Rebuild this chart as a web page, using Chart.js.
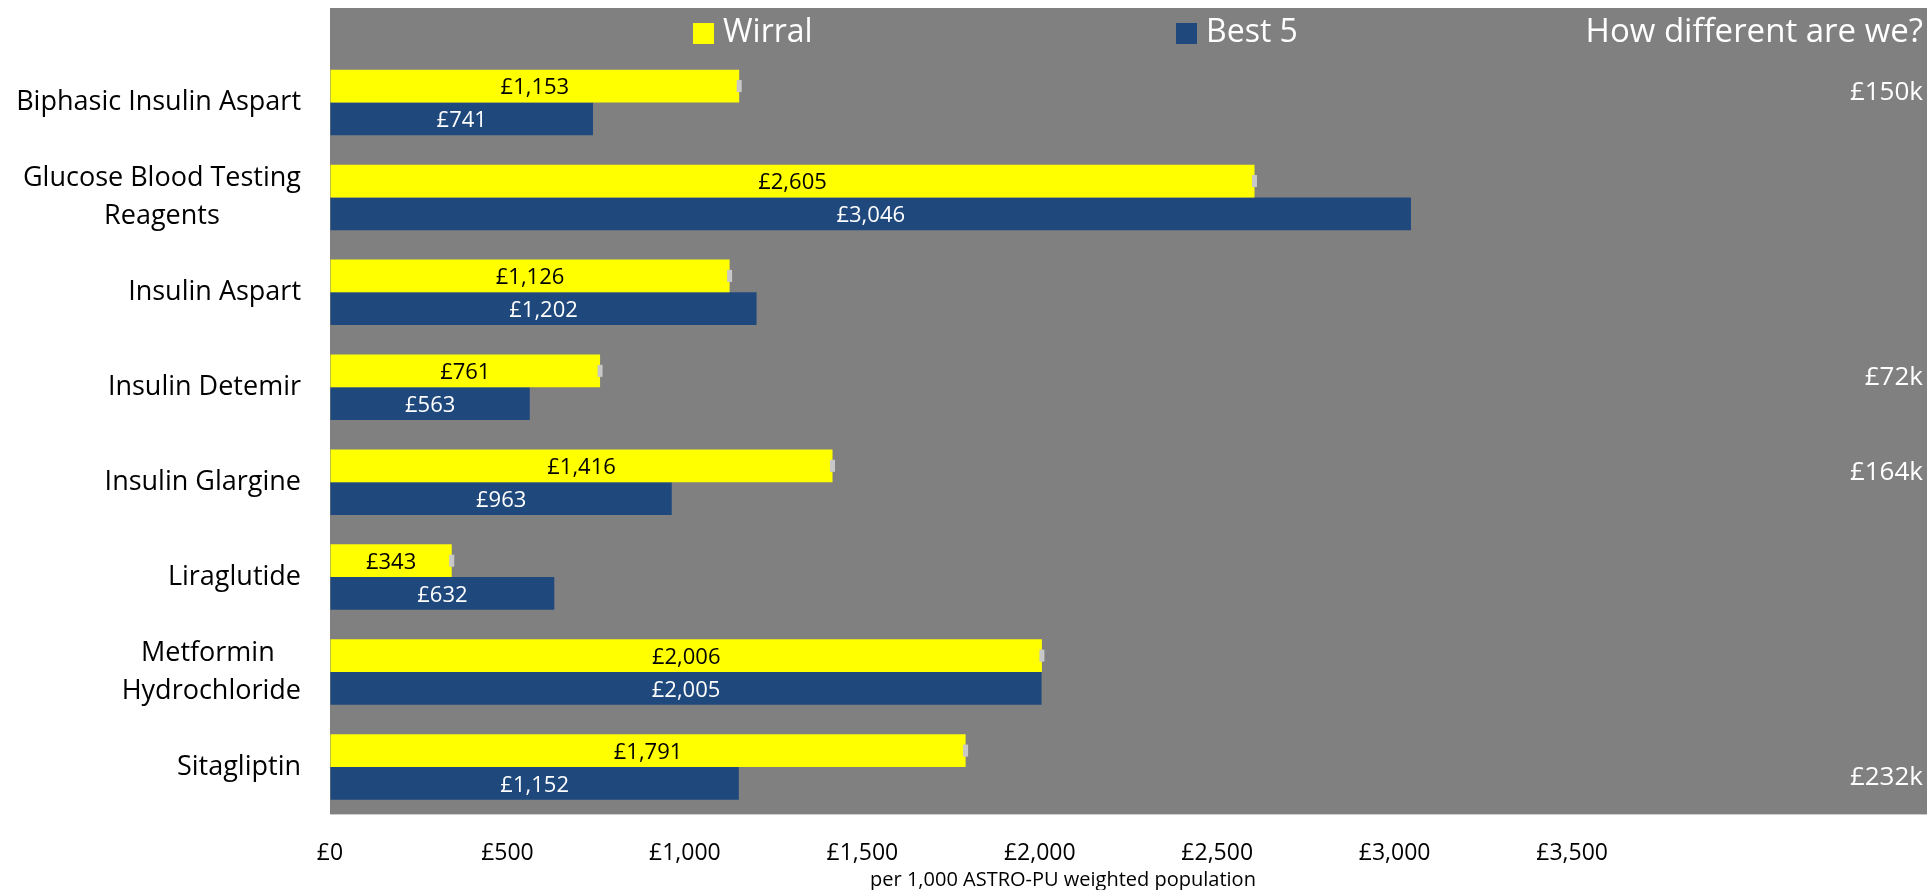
<!DOCTYPE html>
<html lang="en">
<head>
<meta charset="UTF-8" />
<title>How different are we?</title>
<script src="https://cdn.jsdelivr.net/npm/chart.js"></script>
<style>
  html, body { margin: 0; padding: 0; background: #fff; overflow: hidden; }
  #wrap { position: relative; width: 1927px; height: 890px; }
  canvas { display: block; }
</style>
</head>
<body>
<div id="wrap"><canvas id="chart"></canvas></div>
<script>
  // values
  const categories = [
    ['Biphasic Insulin Aspart'],
    ['Glucose Blood Testing', 'Reagents'],
    ['Insulin Aspart'],
    ['Insulin Detemir'],
    ['Insulin Glargine'],
    ['Liraglutide'],
    ['Metformin ', 'Hydrochloride'],
    ['Sitagliptin']
  ];
  const wirral = [1153, 2605, 1126, 761, 1416, 343, 2006, 1791];
  const best5 = [741, 3046, 1202, 563, 963, 632, 2005, 1152];
  const difference = ['£150k', '', '', '£72k', '£164k', '', '', '£232k'];
  const lastTick = 3500;
  const axisTitle = 'per 1,000 ASTRO-PU weighted population';
  const sideTitle = 'How different are we?';

  const FONT = "'Open Sans', 'Noto Sans', sans-serif";
  const money = v => '£' + v.toLocaleString('en-GB');

  // grey panel behind the plot and legend strip
  const panel = {
    id: 'panel',
    beforeDraw(chart) {
      const { ctx, chartArea: a } = chart;
      ctx.save();
      ctx.fillStyle = '#808080';
      ctx.fillRect(a.left, 8, a.right - a.left, a.bottom - 8);
      ctx.restore();
    }
  };

  // value labels in the bars + small error marks on Wirral bars
  const barLabels = {
    id: 'barLabels',
    afterDatasetsDraw(chart) {
      const ctx = chart.ctx;
      ctx.save();
      ctx.font = '22px ' + FONT;
      ctx.textAlign = 'center';
      ctx.textBaseline = 'middle';
      chart.data.datasets.forEach((ds, i) => {
        chart.getDatasetMeta(i).data.forEach((bar, j) => {
          if (i === 0) {
            ctx.fillStyle = '#c8c8c8';
            ctx.fillRect(bar.x - 2.5, bar.y - 6, 5, 12);
          }
          ctx.fillStyle = ds.labelColor;
          ctx.fillText(money(ds.data[j]), (bar.x + bar.base) / 2, bar.y + 2);
        });
      });
      ctx.restore();
    }
  };

  // category labels: block right aligned, lines centred in the block
  const catLabels = {
    id: 'catLabels',
    afterDraw(chart) {
      const ctx = chart.ctx;
      const y = chart.scales.y;
      ctx.save();
      ctx.font = '27px ' + FONT;
      ctx.fillStyle = '#000';
      ctx.textAlign = 'center';
      ctx.textBaseline = 'middle';
      const right = y.right - 29;
      chart.data.labels.forEach((lines, i) => {
        const w = Math.max(...lines.map(l => ctx.measureText(l).width));
        const cy = y.getPixelForValue(i);
        lines.forEach((l, k) => {
          ctx.fillText(l, right - w / 2, cy + (k - (lines.length - 1) / 2) * 38);
        });
      });
      ctx.restore();
    }
  };

  // legend, side column and axis title
  const header = {
    id: 'header',
    afterDraw(chart, args, opts) {
      const ctx = chart.ctx;
      const a = chart.chartArea;
      const y = chart.scales.y;
      ctx.save();
      ctx.font = '32px ' + FONT;
      ctx.textBaseline = 'middle';
      ctx.textAlign = 'left';
      chart.data.datasets.forEach((ds, i) => {
        const x = opts.legendX[i];
        ctx.fillStyle = ds.backgroundColor;
        ctx.fillRect(x, 23, 21, 21);
        ctx.fillStyle = '#fff';
        ctx.fillText(ds.label, x + 30, 33);
      });
      ctx.font = '33px ' + FONT;
      ctx.textAlign = 'right';
      ctx.fillText(sideTitle, a.right - 4, 33);

      ctx.font = '26px ' + FONT;
      difference.forEach((t, i) => {
        if (!t) return;
        ctx.fillText(t, a.right - 4, y.getPixelForValue(i) + opts.diffShift[i]);
      });

      ctx.font = '20px ' + FONT;
      ctx.fillStyle = '#000';
      ctx.textAlign = 'center';
      ctx.fillText(axisTitle, opts.titleX, chart.height - 10);
      ctx.restore();
    }
  };

  new Chart(document.getElementById('chart'), {
    type: 'bar',
    data: {
      labels: categories,
      datasets: [
        { label: 'Wirral', data: wirral, backgroundColor: '#FFFF00', labelColor: '#000' },
        { label: 'Best 5', data: best5, backgroundColor: '#1F497D', labelColor: '#fff' }
      ]
    },
    options: {
      responsive: true,
      maintainAspectRatio: false,
      animation: false,
      indexAxis: 'y',
      categoryPercentage: 0.69,
      barPercentage: 1,
      layout: { padding: { top: 55, right: 0, bottom: 23, left: 0 } },
      plugins: {
        legend: { display: false },
        tooltip: { enabled: false },
        header: { legendX: [693, 1176], diffShift: [-10, 0, 0, -10, -10, 0, 0, 11], titleX: 1063 }
      },
      scales: {
        x: {
          min: 0,
          max: 4500,
          // invisible tick marks give the vertical gap without padding the right edge
          grid: { display: true, drawOnChartArea: false, drawTicks: true, tickLength: 25, tickColor: 'rgba(0,0,0,0)' },
          border: { display: false },
          ticks: {
            stepSize: 500,
            padding: 0,
            maxRotation: 0,
            color: '#000',
            font: { family: FONT, size: 23 },
            callback: v => v <= lastTick ? money(v) : ''
          }
        },
        y: {
          grid: { display: false },
          border: { display: false },
          ticks: { display: false },
          afterFit: s => { s.width = 330; }
        }
      }
    },
    plugins: [panel, barLabels, catLabels, header]
  });
</script>
</body>
</html>
